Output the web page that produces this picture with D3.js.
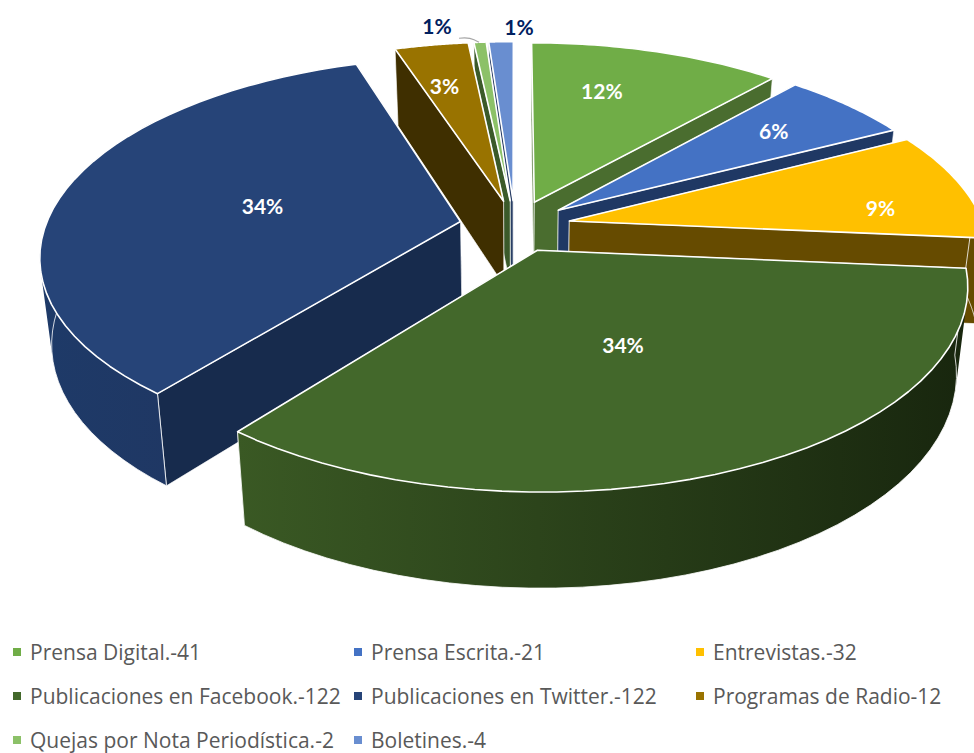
<!DOCTYPE html>
<html><head><meta charset="utf-8">
<script src="https://cdn.jsdelivr.net/npm/d3@7"></script>
<style>html,body{margin:0;padding:0;background:#fff}svg{display:block}</style>
</head><body><svg id="c" width="974" height="753"></svg>
<script>
const categories=["Prensa Digital.-41","Prensa Escrita.-21","Entrevistas.-32","Publicaciones en Facebook.-122","Publicaciones en Twitter.-122","Programas de Radio-12","Quejas por Nota Periodística.-2","Boletines.-4"];
const values=[41,21,32,122,122,12,2,4];
const percentLabels=["12%","6%","9%","34%","34%","3%","1%","1%"];
const topColors=["#70AD47","#4472C4","#FFC000","#43682B","#264478","#997300","#8CC168","#698ED0"];
const radialWallColors=["#4A6D2F","#1F3864","#664B00","#2A4019","#172B4D","#3F2F00","#3B5A2A","#2A3F66"];
const outerWallLeft=["#4A6D2F","#1F3864","#664B00","#3A5924","#1E3A68","#3F2F00","#3B5A2A","#2A3F66"];
const outerWallRight=["#4A6D2F","#1F3864","#664B00","#18260E","#203560","#3F2F00","#3B5A2A","#2A3F66"];
const drawOrder=[0,1,2,7,6,5,4,3];
const labelRadii=[0.55,0.70,0.79,0.45,0.48,0.72,1.0,1.0];
const labelNudges=[[-4,-23],[7,-3],[0,16],[3,6],[-6,1],[-5,2],[-43,-16],[18,-14]];

const cx=515,cy=226,Rx=415,Ry=193,H=85,persp=0.165,shrink=0.025,explode=0.134;
const svg=d3.select("#c");
const defs=svg.append("defs");
const clipG=svg.append("g");
const slices=d3.pie().sort(null).startAngle(0).endAngle(2*Math.PI)(values);
const rad=Math.PI/180;

function project(u,v,z){
  const s=1/(1-persp*v);
  return [cx+Rx*u*s*(1-shrink*z), cy+Ry*v*s+H*z*Math.pow(s,0.6)];
}
function pt(d,a,r,z){
  const b=(d.startAngle+d.endAngle)/2;
  return project(Math.sin(a)*r+explode*Math.sin(b), -Math.cos(a)*r-explode*Math.cos(b), z);
}
const path=d3.line();
function arcAngles(a0,a1){return d3.range(0,41).map(k=>a0+(a1-a0)*k/40);}

const wallStroke="rgba(255,255,255,0.8)";
drawOrder.forEach(i=>{
  const d=slices[i], g=clipG.append("g");
  const radial=a=>[pt(d,a,0,0),pt(d,a,1,0),pt(d,a,1,1),pt(d,a,0,1)];
  // radial walls, the one further back first
  [d.startAngle,d.endAngle].sort((a,b)=>Math.cos(b)-Math.cos(a)).forEach(a=>{
    g.append("path").attr("d",path(radial(a))+"Z").attr("fill",radialWallColors[i]).attr("stroke",wallStroke).attr("stroke-width",0.8);
  });
  // outer wall: small faces with one winding in a single path, so the silhouette stays straight
  const a0=Math.max(d.startAngle,85*rad), a1=Math.min(d.endAngle,330*rad);
  if(a1>a0){
    const as=arcAngles(a0,a1);
    const xs=as.flatMap(a=>[pt(d,a,1,0)[0],pt(d,a,1,1)[0]]);
    const grad=defs.append("linearGradient").attr("id","w"+i).attr("gradientUnits","userSpaceOnUse")
      .attr("x1",d3.min(xs)).attr("x2",d3.max(xs)).attr("y1",0).attr("y2",0);
    grad.append("stop").attr("offset","0%").attr("stop-color",outerWallLeft[i]);
    grad.append("stop").attr("offset","100%").attr("stop-color",outerWallRight[i]);
    const faces=d3.pairs(as).map(([p,q])=>{
      const f=[pt(d,p,1,0),pt(d,q,1,0),pt(d,q,1,1),pt(d,p,1,1)];
      if(d3.polygonArea(f)<0) f.reverse();
      return path(f)+"Z";
    }).join("");
    g.append("path").attr("d",faces).attr("fill",`url(#w${i})`).attr("fill-rule","nonzero");
    const edge=[pt(d,a0,1,0)].concat(as.map(a=>pt(d,a,1,1)));
    if(a1===d.endAngle) edge.push(pt(d,a1,1,0));
    g.append("path").attr("d",path(edge)).attr("fill","none").attr("stroke",wallStroke).attr("stroke-width",1);
  }
  const top=[pt(d,0,0,0)].concat(arcAngles(d.startAngle,d.endAngle).map(a=>pt(d,a,1,0)));
  g.append("path").attr("d",path(top)+"Z").attr("fill",topColors[i]).attr("stroke","#fff").attr("stroke-width",1.6).attr("stroke-linejoin","round");
});

// leader line of the small slice
const lead=pt(slices[6],(slices[6].startAngle+slices[6].endAngle)/2,1,0);
svg.append("path").attr("d",`M${lead[0]-21},${lead[1]-4}C${lead[0]-12},${lead[1]-5} ${lead[0]-8},${lead[1]-4} ${lead[0]-1},${lead[1]}`)
  .attr("fill","none").attr("stroke","#A6A6A6").attr("stroke-width",1.2);

slices.forEach((d,i)=>{
  const b=(d.startAngle+d.endAngle)/2;
  const p=pt(d,b,labelRadii[i],0);
  svg.append("text").attr("x",p[0]+labelNudges[i][0]).attr("y",p[1]+labelNudges[i][1]).attr("dy","0.35em")
    .attr("text-anchor","middle").attr("font-family","Lato, sans-serif").attr("font-weight",700).attr("font-size",21)
    .attr("fill",i>=6?"#002060":"#fff").text(percentLabels[i]);
});

const colX=d3.scaleOrdinal().domain([0,1,2]).range([13,354,696]);
const rowY=d3.scaleOrdinal().domain([0,1,2]).range([653,697,741]);
categories.forEach((c,i)=>{
  const col=i%3,row=Math.floor(i/3);
  svg.append("rect").attr("x",colX(col)).attr("y",rowY(row)-5).attr("width",8).attr("height",8).attr("fill",topColors[i]);
  svg.append("text").attr("x",colX(col)+17).attr("y",rowY(row)).attr("dy","0.35em")
    .attr("font-family","'Open Sans', sans-serif").attr("font-size",21).attr("fill","#595959").text(c);
});
</script></body></html>
